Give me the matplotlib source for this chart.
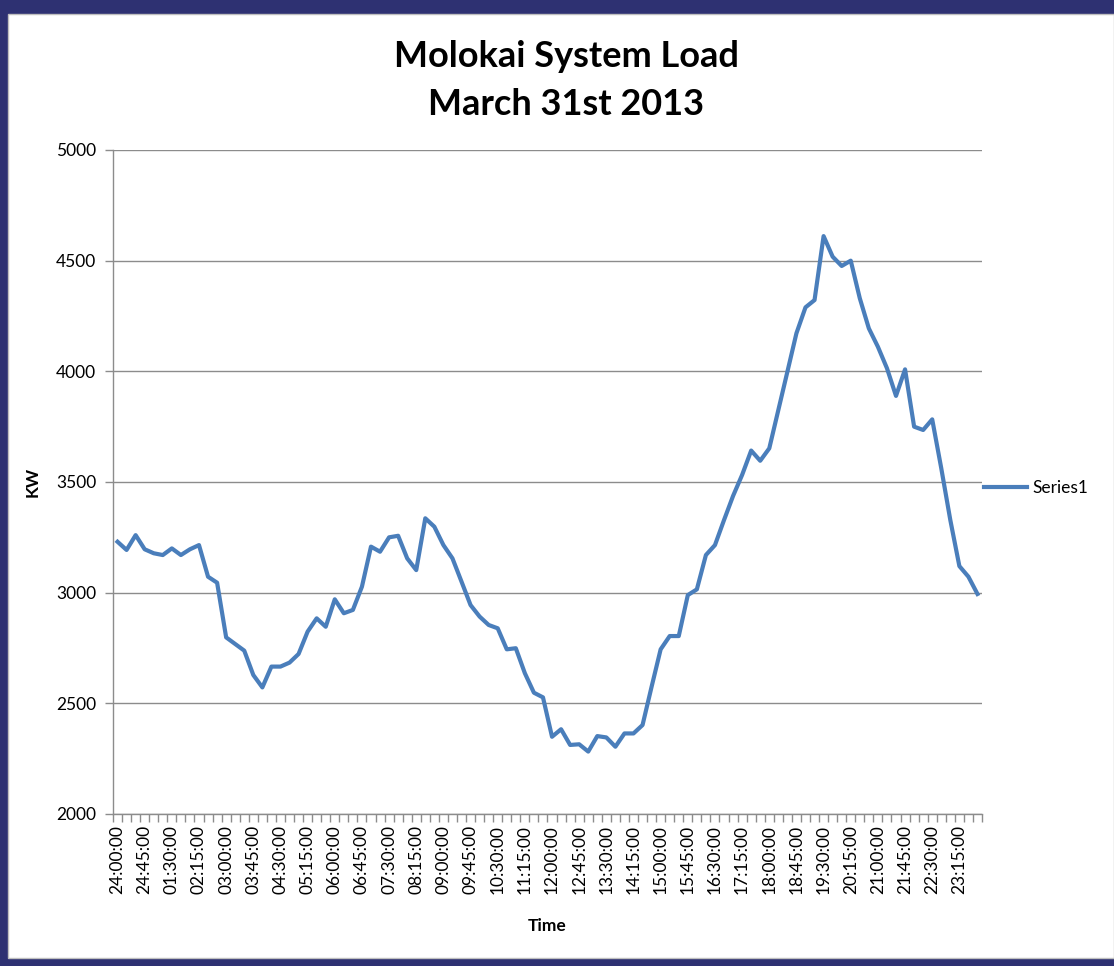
import matplotlib
matplotlib.use('Agg')
import matplotlib.pyplot as plt
from matplotlib.patches import Rectangle
from matplotlib.ticker import FixedLocator

plt.rcParams['font.family'] = ['Lato', 'DejaVu Sans']

# 15-minute readings, first hour written as 24:xx in the source sheet
times = [f'{(24 if h == 0 else h):02d}:{m:02d}:00' for h in range(24) for m in (0, 15, 30, 45)]

load_kw = [
    3230, 3193, 3260, 3196, 3178, 3170, 3200, 3170, 3196, 3215, 3072, 3045,
    2798, 2768, 2738, 2628, 2572, 2666, 2666, 2684, 2723, 2824, 2884, 2846,
    2970, 2907, 2922, 3027, 3208, 3185, 3250, 3257, 3155, 3102, 3336, 3298,
    3215, 3155, 3050, 2944, 2892, 2854, 2839, 2744, 2749, 2636, 2548, 2527,
    2349, 2383, 2312, 2315, 2282, 2352, 2346, 2304, 2364, 2364, 2402, 2575,
    2744, 2804, 2804, 2989, 3015, 3170, 3215, 3328, 3437, 3532, 3642, 3596,
    3652, 3825, 3998, 4172, 4289, 4322, 4611, 4518, 4476, 4500, 4330, 4194,
    4111, 4014, 3889, 4009, 3750, 3735, 3783, 3562, 3328, 3120, 3072, 2994,
]

yticks = [2000, 2500, 3000, 3500, 4000, 4500, 5000]

W, H = 1114, 966
fig = plt.figure(figsize=(W / 100, H / 100), dpi=100, facecolor='#2E3172')

# white chart area inside the navy frame
fig.patches.append(Rectangle((8 / W, 8 / H), 1 - 8 / W, 1 - 22 / H,
                             transform=fig.transFigure, facecolor='white',
                             edgecolor='#BFBFBF', linewidth=1, zorder=-5))

ax = fig.add_axes([113 / W, 1 - 814 / H, (982 - 113) / W, (814 - 150) / H])
ax.set_facecolor('none')

x = list(range(len(times)))
ax.plot(x, load_kw, color='#4A7EBB', linewidth=3, solid_joinstyle='round',
        label='Series1', zorder=3)

ax.set_xlim(-0.5, len(times) - 0.5)
ax.set_ylim(2000, 5000)
ax.set_yticks(yticks)
ax.set_yticklabels([str(v) for v in yticks])
ax.yaxis.grid(True, color='#8C8C8C', linewidth=1)
ax.set_axisbelow(True)

ax.set_xticks(x[::3])
ax.set_xticklabels(times[::3], rotation=90)
ax.xaxis.set_minor_locator(FixedLocator([i - 0.5 for i in range(len(times) + 1)]))
ax.tick_params(axis='x', which='major', length=0, pad=8, labelsize=12.5)
ax.tick_params(axis='x', which='minor', length=6, color='#8C8C8C', width=1)
ax.tick_params(axis='y', length=6, color='#8C8C8C', width=1, labelsize=12.5, pad=6)

for side in ('top', 'right'):
    ax.spines[side].set_visible(False)
for side in ('left', 'bottom'):
    ax.spines[side].set_color('#8C8C8C')
    ax.spines[side].set_linewidth(1)

fig.text(566 / W, 1 - 40 / H, 'Molokai System Load\nMarch 31st 2013',
         ha='center', va='top', fontsize=26, fontweight='bold', linespacing=1.55)
fig.text(547 / W, 1 - 926 / H, 'Time', ha='center', va='center',
         fontsize=12.5, fontweight='bold')
fig.text(33 / W, 1 - 482 / H, 'KW', ha='center', va='center', rotation=90,
         fontsize=12.5, fontweight='bold')

fig.legend(loc='center left', bbox_to_anchor=(984 / W, 1 - 488 / H),
           frameon=False, fontsize=12.5, handlelength=2.5, handletextpad=0.3,
           borderpad=0, borderaxespad=0)

fig.savefig('out.png', dpi=100, facecolor=fig.get_facecolor())
